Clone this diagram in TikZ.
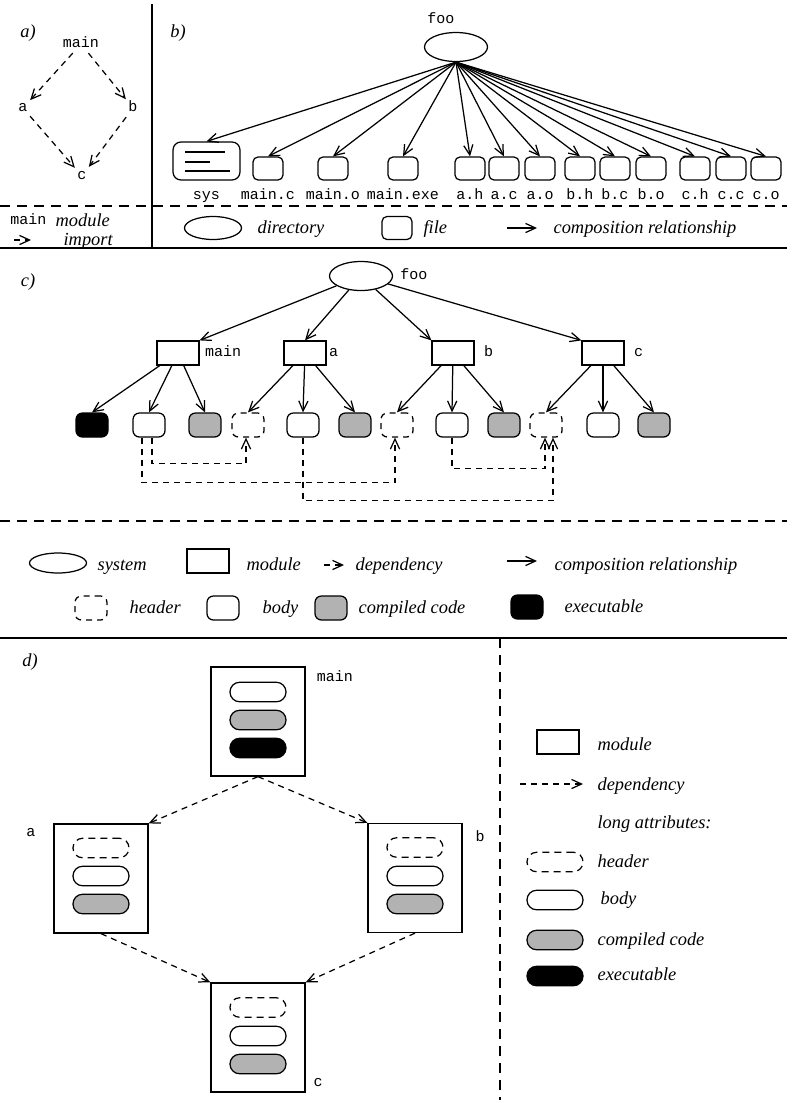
\documentclass[tikz,border=0pt]{standalone}
\usepackage{fontspec}
\setmainfont{Liberation Serif}
\setmonofont{Liberation Mono}
\usetikzlibrary{arrows.meta,shapes.geometric}
\definecolor{codegray}{gray}{0.7}
\newcommand{\itf}{\fontsize{9.2}{11}\selectfont\itshape}
\newcommand{\ttf}{\fontsize{7.5}{9}\selectfont\ttfamily}

\tikzset{
  dir/.style={draw, ellipse, inner sep=0pt, minimum width=31.5pt, minimum height=14.5pt},
  file/.style={draw, rounded corners=2.5pt, minimum width=15pt, minimum height=11.5pt, inner sep=0pt},
  module/.style={draw, minimum width=21pt, minimum height=12pt, inner sep=0pt},
  leaf/.style={draw, rounded corners=3.2pt, minimum width=16pt, minimum height=12pt, inner sep=0pt},
  hdr/.style={leaf, dash pattern=on 3pt off 2.5pt},
  body/.style={leaf},
  obj/.style={leaf, fill=codegray},
  exe/.style={leaf, fill=black},
  bigmod/.style={draw, minimum width=47pt, minimum height=54.5pt, inner sep=0pt},
  pill/.style={draw, rounded corners=4.8pt, minimum width=28pt, minimum height=9.75pt, inner sep=0pt},
  phdr/.style={pill, dash pattern=on 3.5pt off 2.5pt},
  pbody/.style={pill},
  pobj/.style={pill, fill=codegray},
  pexe/.style={pill, fill=black},
  comp/.style={->},
  dep/.style={->, dash pattern=on 3pt off 2.5pt},
  txt/.style={font=\itf, inner sep=1pt, text height=1.6ex, text depth=.45ex},
  mono/.style={font=\ttf, inner sep=1pt, text height=5pt, text depth=1.5pt},
  flbl/.style={mono, label distance=3pt},
  sep/.style={line width=0.9pt},
  dsep/.style={line width=0.6pt, dash pattern=on 5pt off 3.5pt}
}

\begin{document}
\begin{tikzpicture}[x=0.5pt, y=-0.5pt, line width=0.62pt, >={Straight Barb[length=5pt,width=4.6pt]}]
\useasboundingbox (0,0) rectangle (787,1100);

% frames
\draw[sep] (152,4) -- (152,248);
\draw[dsep] (0,206) -- (787,206);
\draw[sep] (0,248) -- (787,248);
\draw[dsep] (0,521) -- (787,521);
\draw[sep] (0,638) -- (787,638);
\draw[dsep] (500,638) -- (500,1100);

% a) import graph
\node[txt] (la) at (28,32) {a)};
\node[mono] (amain) at (81,44) {main};
\node[mono] (aa) at (23,108) {a};
\node[mono] (ab) at (133,108) {b};
\node[mono] (ac) at (82,176) {c};
\draw[dep] (amain) -- (aa);
\draw[dep] (amain) -- (ab);
\draw[dep] (aa) -- (ac);
\draw[dep] (ab) -- (ac);
\node[mono, anchor=east] (keymain) at (49,221) {main};
\node[txt, anchor=west] (keymodule) at (53,221) {module};
\coordinate (keyd1) at (14,240);
\coordinate (keyd2) at (31,240);
\draw[dep] (keyd1) -- (keyd2);
\node[txt, anchor=west] (keyimport) at (61,240) {import};

% b) directory tree
\node[txt] (lb) at (178,32) {b)};
\node[dir] (foo) at (456,47) {};
\node[mono] (foolbl) at (441,20) {foo};
\node[file, minimum width=33.5pt, minimum height=19pt, rounded corners=4pt,
      label={[flbl]below:sys}] (sys) at (206.5,161) {};
\draw (185,152) -- (225,152);
\draw (185,162) -- (210,162);
\draw (185,171) -- (230,171);
\draw[comp] (foo.south) -- (sys.north);
\foreach \x/\nm/\lbl in {268/fmc/main.c, 333/fmo/main.o, 403/fme/main.exe,
    470/fah/a.h, 504/fac/a.c, 540/fao/a.o, 580/fbh/b.h, 615/fbc/b.c,
    651/fbo/b.o, 695/fch/c.h, 731/fcc/c.c, 766/fco/c.o}
{
  \node[file, label={[flbl]below:\lbl}] (\nm) at (\x,168.5) {};
  \draw[comp] (foo.south) -- (\nm.north);
}
\node[dir, minimum width=28.5pt, minimum height=11.5pt] (keydir) at (213,228) {};
\node[txt, anchor=west] (keydirtxt) at (255,228) {directory};
\node[file] (keyfile) at (397,228) {};
\node[txt, anchor=west] (keyfiletxt) at (421,228) {file};
\coordinate (keyc1) at (507,228);
\coordinate (keyc2) at (537,228);
\draw[comp] (keyc1) -- (keyc2);
\node[txt, anchor=west] (keycomptxt) at (551,228) {composition relationship};

% c) system, modules, attributes
\node[txt] (lc) at (28,281) {c)};
\node[dir] (root) at (361,276) {};
\node[mono] (rootlbl) at (414,276) {foo};
\node[module, label={[mono, label distance=1.5pt]right:main}] (cmain) at (178,353) {};
\node[module, label={[mono]right:a}] (ca) at (305,353) {};
\node[module, label={[mono, label distance=3.5pt]right:b}] (cb) at (453,353) {};
\node[module, label={[mono, label distance=3.5pt]right:c}] (cc) at (603,353) {};
\node[exe] (lexe) at (92,425) {};
\node[body] (lmb) at (149,425) {};
\node[obj] (lmo) at (205,425) {};
\node[hdr] (lah) at (248,425) {};
\node[body] (lab) at (303,425) {};
\node[obj] (lao) at (355,425) {};
\node[hdr] (lbh) at (397,425) {};
\node[body] (lbb) at (452,425) {};
\node[obj] (lbo) at (504,425) {};
\node[hdr] (lch) at (546,425) {};
\node[body] (lcb) at (603,425) {};
\node[obj] (lco) at (654,425) {};
\draw[comp] (root) -- (cmain.north east);
\draw[comp] (root) -- (ca.north);
\draw[comp] (root) -- (cb.north west);
\draw[comp] (root) -- (cc.north west);
\foreach \m/\l in {cmain/lexe, cmain/lmb, cmain/lmo, ca/lah, ca/lab, ca/lao,
    cb/lbh, cb/lbb, cb/lbo, cc/lch, cc/lcb, cc/lco}
  \draw[comp] (\m) -- (\l.north);
\draw[dep] ([xshift=1.5pt]lmb.south) -- ++(0,26) -| ([xshift=-1pt]lah.south);
\draw[dep] ([xshift=-3.5pt]lmb.south) -- ++(0,45) -| ([xshift=-1pt]lbh.south);
\draw[dep] (lab.south) -- ++(0,63) -| ([xshift=3.5pt]lch.south);
\draw[dep] (lbb.south) -- ++(0,31) -| ([xshift=-0.5pt]lch.south);

% legend c
\node[dir, minimum width=28.5pt, minimum height=10pt] (keysys) at (58,563) {};
\node[txt, anchor=west] (keysystxt) at (95,565) {system};
\node[module] (keymodc) at (208,561) {};
\node[txt, anchor=west] (keymodctxt) at (244,565) {module};
\coordinate (keyd3) at (324,565);
\coordinate (keyd4) at (344,565);
\draw[dep] (keyd3) -- (keyd4);
\node[txt, anchor=west] (keydeptxt) at (353,565) {dependency};
\coordinate (keyc3) at (507,561);
\coordinate (keyc4) at (537,561);
\draw[comp] (keyc3) -- (keyc4);
\node[txt, anchor=west] (keycomptxtc) at (552,565) {composition relationship};
\node[hdr] (keyhdr) at (91,608) {};
\node[txt, anchor=west] (keyhdrtxt) at (127,608) {header};
\node[body] (keybody) at (223,608) {};
\node[txt, anchor=west] (keybodytxt) at (260,608) {body};
\node[obj] (keyobj) at (331,608) {};
\node[txt, anchor=west] (keyobjtxt) at (356,608) {compiled code};
\node[exe] (keyexe) at (527,607) {};
\node[txt, anchor=west] (keyexetxt) at (562,607) {executable};

% d) modules with long attributes
\node[txt] (ld) at (30,661) {d)};
\node[bigmod] (dmain) at (258,721.5) {};
\node[mono] (dmainlbl) at (335,678) {main};
\node[pbody] (dmb) at (258,692) {};
\node[pobj] (dmo) at (258,720) {};
\node[pexe] (dme) at (258,748) {};
\node[bigmod] (da) at (101,878.5) {};
\node[mono] (dalbl) at (31,833) {a};
\node[phdr] (dah) at (101,848) {};
\node[pbody] (dab) at (101,876) {};
\node[pobj] (dao) at (101,904) {};
\node[bigmod] (db) at (415,878) {};
\node[mono] (dblbl) at (480,838) {b};
\node[phdr] (dbh) at (415,847.5) {};
\node[pbody] (dbb) at (415,876) {};
\node[pobj] (dbo) at (415,904) {};
\node[bigmod] (dc) at (258,1037.5) {};
\node[mono] (dclbl) at (318,1083) {c};
\node[phdr] (dch) at (258,1007.5) {};
\node[pbody] (dcb) at (258,1036) {};
\node[pobj] (dco) at (258,1064) {};
\draw[dep] (dmain.south) -- (da.north east);
\draw[dep] (dmain.south) -- (db.north west);
\draw[dep] (da.south) -- (dc.north west);
\draw[dep] (db.south) -- (dc.north east);

% legend d
\node[module] (keymodd) at (558,742) {};
\node[txt, anchor=west] (keymoddtxt) at (595,745) {module};
\coordinate (keyd5) at (520,784);
\coordinate (keyd6) at (583,784);
\draw[dep] (keyd5) -- (keyd6);
\node[txt, anchor=west] (keydepdtxt) at (595,785) {dependency};
\node[txt, anchor=west] (keylong) at (595,823) {long attributes:};
\node[phdr] (keyph) at (555,862) {};
\node[txt, anchor=west] (keyphtxt) at (595,862) {header};
\node[pbody] (keypb) at (555,900) {};
\node[txt, anchor=west] (keypbtxt) at (598,899) {body};
\node[pobj] (keypo) at (555,940) {};
\node[txt, anchor=west] (keypotxt) at (595,940) {compiled code};
\node[pexe] (keype) at (555,976) {};
\node[txt, anchor=west] (keypetxt) at (595,975) {executable};
\end{tikzpicture}
\end{document}
